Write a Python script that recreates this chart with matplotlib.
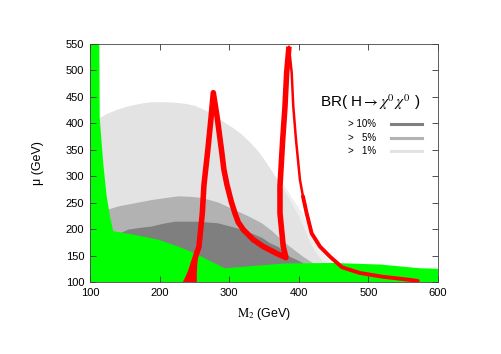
import numpy as np
import matplotlib
matplotlib.use("Agg")
import matplotlib.pyplot as plt

plt.rcParams['font.family'] = ['Liberation Sans', 'DejaVu Sans']
plt.rcParams['mathtext.fontset'] = 'stix'

# BR(H -> chi0 chi0) regions, upper boundaries (M2, mu) in GeV
br1_m2 = [105, 114, 125, 140, 152, 165, 177, 189, 205, 222, 237, 251, 265, 280, 294, 306, 318,
          330, 342, 354, 366, 376, 385, 400, 410, 418, 428, 437, 442]
br1_mu = [405, 410, 418, 426, 431, 435, 438, 440, 440, 439, 437, 433, 425, 414, 401, 391, 379,
          364, 347, 325, 300, 280, 260, 225, 195, 170, 150, 135, 122]

# faint outer edge of the 1% region
edge_m2 = [366, 378, 390, 405, 418, 428, 438, 446, 452]
edge_mu = [300, 285, 260, 230, 195, 167, 150, 138, 125]

br5_m2 = [115, 124, 141, 165, 189, 210, 227, 245, 261, 285, 308, 328, 347, 362, 375, 387, 406, 420, 426]
br5_mu = [232, 236, 243, 249, 255, 259, 262, 261, 259, 250, 236, 224, 211, 196, 180, 167, 148, 136, 125]

br10_m2 = [140, 155, 170, 189, 205, 222, 255, 284, 310, 332, 348, 359, 371, 387, 406, 412]
br10_mu = [190, 199, 202, 205, 210, 214, 214, 211, 202, 192, 183, 173, 166, 148, 136, 125]

# excluded (green) region, upper boundary
excl_m2 = [100, 113.4, 114, 119, 124, 128.7, 133.5, 165, 198, 227, 251, 275, 294, 323, 380, 449, 517, 574, 600]
excl_mu = [550, 550, 410, 325, 262, 224, 196, 189, 180, 167, 154, 138, 126, 129, 135, 136, 133, 126, 125]

# red contour: thick part (left peak and left side of right peak)
red_a_m2 = [240.0, 244.5, 248.4, 252.5, 256.6, 261.4, 263.8, 269.1, 273.9, 277.2,
            282.9, 289.2, 292.5, 296.8, 303.0, 308.3, 313.0, 320.3, 334.6, 349.0, 368.2, 381.6,
            377.7, 373.0, 373.0, 376.9, 380.2, 382.6, 385.9]
red_a_mu = [100, 118, 135, 151, 167, 230, 284, 347, 410, 458,
            410, 347, 312, 284, 252, 230, 213, 199, 180, 167, 154, 146,
            167, 230, 281, 369, 432, 496, 545]
# thin upper right side of the right peak
red_b_m2 = [385.9, 389.8, 392.1, 396.0, 401.7, 406.0, 411.3, 418.5]
red_b_mu = [545, 496, 432, 369, 293, 262, 230, 192]
# lower tail
red_c_m2 = [406.0, 411.3, 418.5, 430.5, 444.8, 462.0, 468.8, 488.0, 520.0, 560.0, 571.0]
red_c_mu = [262, 230, 192, 167, 148, 128, 125, 117, 110, 104, 102]
# wide lower part of the left branch
red_w_m2 = [233.5, 239.0, 244.0, 248.0, 253.0, 256.5, 255.0, 254.0, 253.5, 253.5]
red_w_mu = [100, 115, 130, 145, 160, 160, 145, 130, 115, 100]

legend_labels = ['> 10%', '>   5%', '>   1%']
grey = ['#7f7f7f', '#b2b2b2', '#e3e3e3']

fig = plt.figure(figsize=(5.01, 3.54), dpi=100)
ax = fig.add_axes([0.1796, 0.2034, 0.6946, 0.6723])

ax.fill(edge_m2 + [452, 366], edge_mu + [100, 100], color='#efefef', lw=0)
ax.fill(br1_m2 + [442, 105], br1_mu + [100, 100], color=grey[2], lw=0)
ax.fill(br5_m2 + [426, 115], br5_mu + [100, 100], color=grey[1], lw=0)
ax.fill(br10_m2 + [412, 140], br10_mu + [100, 100], color=grey[0], lw=0)
ax.fill(excl_m2 + [600, 100], excl_mu + [100, 100], color='#00ff00', lw=0)

ax.fill(red_w_m2, red_w_mu, color='red', lw=0)
ax.plot(red_a_m2, red_a_mu, color='red', lw=4, solid_capstyle='butt', solid_joinstyle='round')
ax.plot(red_b_m2, red_b_mu, color='red', lw=1.8, solid_capstyle='round', solid_joinstyle='round')
ax.plot(red_c_m2, red_c_mu, color='red', lw=2.8, solid_capstyle='round', solid_joinstyle='round')

ax.set_xlim(100, 600)
ax.set_ylim(100, 550)
ax.set_xticks(np.arange(100, 601, 100))
ax.set_yticks(np.arange(100, 551, 50))
ax.tick_params(direction='in', top=True, right=True, length=4, width=0.6,
               labelsize=8, color='#333333', pad=4)
for s in ax.spines.values():
    s.set_linewidth(0.6)
    s.set_color('#444444')

ax.set_xlabel(r'$\mathrm{M}_2$ (GeV)', fontsize=9, labelpad=6)
ax.set_ylabel(u'\u03bc (GeV)', fontsize=9, labelpad=16)

# legend drawn by hand
ax.text(0.662, 0.755, r'BR( H$\rightarrow\chi^0\,\chi^0$ )', transform=ax.transAxes,
        fontsize=11, ha='left', va='center')
for i, (lab, c) in enumerate(zip(legend_labels, grey)):
    y = 0.665 - i * 0.058
    ax.text(0.742, y, lab, transform=ax.transAxes, fontsize=7, ha='left', va='center')
    ax.plot([0.865, 0.955], [y, y], transform=ax.transAxes, color=c, lw=2.2)

fig.savefig('out.png', dpi=100)
